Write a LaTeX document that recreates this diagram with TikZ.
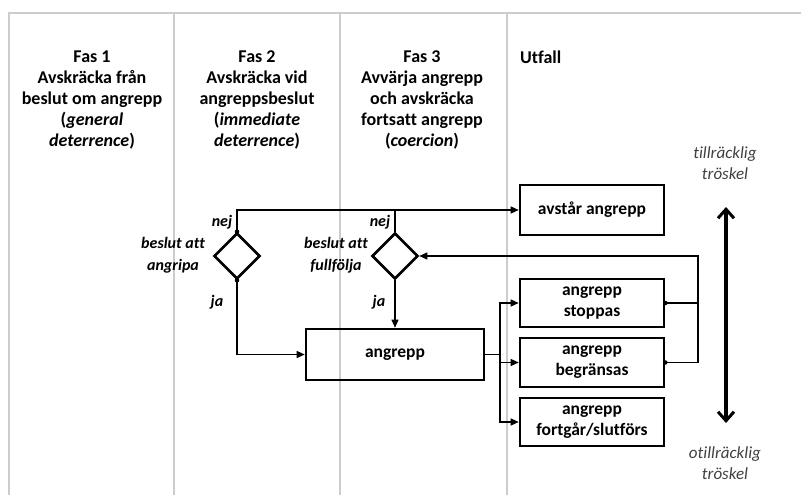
\documentclass[tikz,border=0pt]{standalone}
\usepackage{fontspec}
\setmainfont{Carlito}[Ligatures={TeX,NoCommon}]
\usetikzlibrary{arrows.meta,shapes.geometric}
\begin{document}
\begin{tikzpicture}[x=1pt,y=-1pt,
  frame/.style={draw=black!20,line width=2.2pt},
  head/.style={align=center,font=\fontsize{18}{21}\selectfont\bfseries,inner sep=0pt},
  lab/.style={align=center,font=\fontsize{16}{22}\selectfont\bfseries\itshape,inner sep=0pt},
  thr/.style={align=center,font=\fontsize{17}{21}\selectfont\itshape,text=black!75,inner sep=0pt},
  outbox/.style={draw,line width=2.6pt,minimum width=144pt,align=center,inner sep=0pt,
     font=\fontsize{17.5}{21}\selectfont\bfseries},
  dec/.style={draw,diamond,line width=2.6pt,minimum width=46pt,minimum height=46pt,inner sep=0pt},
  conn/.style={line width=1.3pt},
  arr/.style={conn,-{Triangle[length=8pt,width=7pt]}},
  dot/.style={circle,fill=black,inner sep=0pt,minimum size=4.5pt}
]
\useasboundingbox (0,0) rectangle (801,495);
% frame
\draw[frame] (9,495) -- (9,13) -- (801,13);
\draw[frame] (174,13) -- (174,495);
\draw[frame] (340,13) -- (340,495);
\draw[frame] (507,13) -- (507,495);
% headings
\node[head] (h1) at (92,100) {Fas 1\\Avskräcka från\\beslut om angrepp\\(\textit{general}\\\textit{deterrence})};
\node[head] (h2) at (257,100) {Fas 2\\Avskräcka vid\\angreppsbeslut\\(\textit{immediate}\\\textit{deterrence})};
\node[head] (h3) at (422,100) {Fas 3\\Avvärja angrepp\\och avskräcka\\fortsatt angrepp\\(\textit{coercion})};
\node[head,anchor=west] (h4) at (520,57) {Utfall};
% boxes
\node[outbox,minimum height=50pt] (avstar) at (592,210) {avstår angrepp};
\node[outbox,minimum height=48pt] (stoppas) at (592,303) {angrepp\\stoppas};
\node[outbox,minimum height=49pt] (begr) at (592,362.5) {angrepp\\begränsas};
\node[outbox,minimum height=48pt] (fortgar) at (592,422) {angrepp\\fortgår/slutförs};
\node[outbox,minimum width=178pt,minimum height=51pt] (angrepp) at (395,354.5) {angrepp};
% decisions
\node[dec] (d1) at (237,256) {};
\node[dec] (d2) at (395,256) {};
% labels
\node[lab] (n1) at (222,222) {nej};
\node[lab] (n2) at (380,222) {nej};
\node[lab] (b1) at (173,255) {beslut att\\angripa};
\node[lab] (b2) at (336,255) {beslut att\\fullfölja};
\node[lab] (j1) at (217,302) {ja};
\node[lab] (j2) at (379,302) {ja};
\node[thr] (t1) at (725,163.5) {tillräcklig\\tröskel};
\node[thr] (t2) at (725,463.5) {otillräcklig\\tröskel};
% connectors
\draw[arr] (d1.north) |- (avstar.west);
\draw[conn] (d2.north) -- (d2.north |- avstar.west);
\draw[arr] (d1.south) |- (angrepp.west);
\draw[arr] (d2.south) -- (angrepp.north);
\coordinate (sp) at (500,354.5);
\draw[conn] (angrepp.east) -- (sp);
\draw[arr] (sp) |- (stoppas.west);
\draw[arr] (sp) |- (begr.west);
\draw[arr] (sp) |- (fortgar.west);
\coordinate (fb) at (698,256);
\draw[arr] (begr.east) -| (fb) -- (d2.east);
\draw[conn] (stoppas.east) -- (stoppas.east -| fb);
\node[dot] (p1) at (d1.north) {};
\node[dot] (p2) at (d1.south) {};
\node[dot] (p3) at (stoppas.east) {};
\node[dot] (p4) at (begr.east) {};
% threshold arrow
\coordinate (ttop) at (726,207);
\coordinate (tbot) at (726,423);
\draw[line width=3.6pt,{Straight Barb[length=9pt,width=16pt,line width=3pt]}-{Straight Barb[length=9pt,width=16pt,line width=3pt]}] (ttop) -- (tbot);
\end{tikzpicture}
\end{document}
